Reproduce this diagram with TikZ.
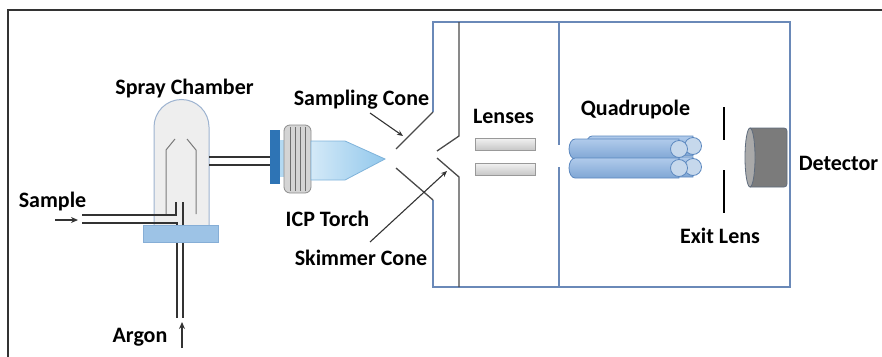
\documentclass[tikz,border=0pt]{standalone}
\usepackage{fontspec}
\setmainfont{Carlito}
\usetikzlibrary{arrows.meta}
\definecolor{frame}{HTML}{333333}
\definecolor{boxblue}{HTML}{6A89B8}
\definecolor{wallgray}{HTML}{4A4A4A}
\definecolor{glassfill}{HTML}{EEEEEE}
\definecolor{glassedge}{HTML}{9DB3D0}
\definecolor{innergray}{HTML}{7A7A7A}
\definecolor{plate}{HTML}{9DC3E6}
\definecolor{plateedge}{HTML}{86AED6}
\definecolor{flange}{HTML}{2E74B5}
\definecolor{ringgray}{HTML}{D4D4D4}
\definecolor{ringline}{HTML}{6E6E6E}
\definecolor{plasma}{HTML}{92C8EC}
\definecolor{plasmaedge}{HTML}{7FB3DA}
\definecolor{rodblue}{HTML}{86AFE0}
\definecolor{rodedge}{HTML}{5C88BF}
\definecolor{rodcap}{HTML}{C6D8EC}
\definecolor{detbody}{HTML}{7B7B7B}
\definecolor{detface}{HTML}{A9A9A9}
\definecolor{detedge}{HTML}{5E6B7C}
\tikzset{
  lbl/.style={font=\fontsize{22}{24}\selectfont\bfseries, inner sep=0pt, anchor=base},
  tube/.style={draw=frame, line width=1.3pt},
  ptr/.style={draw=frame, line width=1.1pt, -{Stealth[length=6pt,width=5pt]}},
  flow/.style={draw=frame, line width=1.3pt, -{Stealth[length=7pt,width=6pt]}},
  wall/.style={draw=wallgray, line width=1.3pt},
  boxline/.style={draw=boxblue, line width=1.5pt},
  lensbar/.style={draw=black!40, line width=0.8pt, top color=white!95!black, bottom color=black!22},
  rodbody/.style={draw=rodedge, line width=0.8pt, top color=rodblue!65!white, bottom color=rodblue!95!black},
  rodend/.style={draw=rodedge, line width=0.8pt, fill=rodcap},
}
% side view of a rod: body with rounded left end, end face on the right
\newcommand{\quadrod}[3]{%
  \path[rodbody] (#3,#2-10) -- (#1,#2-10)
    arc[start angle=90, end angle=270, x radius=6pt, y radius=10pt]
    -- (#3,#2+10) -- cycle;
  \path[rodend] (#3,#2) circle[radius=8.5pt];
}
\begin{document}
\begin{tikzpicture}[x=1pt,y=-1pt]
\useasboundingbox (0,0) rectangle (882,356);

% outer frame (open to the right and bottom)
\draw[frame, line width=2pt] (882,10) -- (8,10) -- (8,357);

% ---------- spray chamber ----------
\path[fill=glassfill, draw=glassedge, line width=1pt]
  (154,226) -- (154,127) arc[start angle=180, end angle=0, radius=27.5pt] -- (209,226);
\draw[innergray, line width=1pt] (166,215) -- (166,150) -- (175,139);
\draw[innergray, line width=1pt] (196,214) -- (196,150) -- (187,139);

% sample and argon feed tubes
\draw[tube] (82,215) -- (176,215) -- (176,202);
\draw[tube] (82,223) -- (177,223) -- (177,318);
\draw[tube] (183,202) -- (183,318);

% base plate
\path[fill=plate, draw=plateedge, line width=0.8pt] (143,225) rectangle (218,242);

% transfer line to the torch
\draw[tube] (209,157) -- (271,157);
\draw[tube] (209,165) -- (271,165);

% ---------- ICP torch ----------
\path[fill=plasma!70!white] (280,140) rectangle (287,177);
\path[fill=ringgray, draw=black!45, line width=0.8pt, rounded corners=6pt] (284,125) rectangle (311,193);
\foreach \rx in {290,295,300,305}
  \draw[ringline, line width=0.9pt] (\rx,127) -- (\rx,191);
\path[left color=plasma!40!white, right color=plasma, draw=plasmaedge, line width=0.8pt]
  (311,141) -- (345,141) -- (385,159) -- (345,180) -- (311,180) -- cycle;
\path[fill=flange] (270,130) rectangle (280,184);

% ---------- vacuum interface and housing ----------
\draw[boxline] (433,112) -- (433,22) -- (790,22) -- (790,287) -- (433,287) -- (433,200);
\draw[wall] (433,112) -- (396,149);
\draw[wall] (396,168) -- (433,200);
\draw[wall] (459,22) -- (459,136) -- (437,151);
\draw[wall] (437,158) -- (459,177) -- (459,287);
\draw[boxline] (559,22) -- (559,145);
\draw[boxline] (559,167) -- (559,287);

% ion lenses
\path[lensbar] (475,138) rectangle (535,150);
\path[lensbar] (475,163) rectangle (535,175);

% quadrupole rods: rear pair first, then front pair
\quadrod{592}{146}{693}
\quadrod{592}{167}{693}
\quadrod{575}{149}{679}
\quadrod{575}{168}{679}

% exit lens
\draw[black, line width=2pt] (724,107) -- (724,140);
\draw[black, line width=2pt] (724,170) -- (724,213);

% detector
\path[fill=detbody, draw=detedge, line width=0.8pt, rounded corners=3pt]
  (750,128) -- (787,128) -- (787,187) -- (750,187);
\path[fill=detface, draw=detedge, line width=0.8pt] (750,157.5) ellipse[x radius=5pt, y radius=29.5pt];

% ---------- labels ----------
\node[lbl] (spray)    at (184.5,94)  {Spray Chamber};
\node[lbl] (sample)   at (52.5,207)  {Sample};
\node[lbl] (argon)    at (140,342)   {Argon};
\node[lbl] (torch)    at (327.5,226) {ICP Torch};
\node[lbl] (sampling) at (361.5,105) {Sampling Cone};
\node[lbl] (skimmer)  at (361,265)   {Skimmer Cone};
\node[lbl] (lenses)   at (503.5,123) {Lenses};
\node[lbl] (quad)     at (635.5,115) {Quadrupole};
\node[lbl] (exitlens) at (720,243)   {Exit Lens};
\node[lbl] (detector) at (838.5,170) {Detector};

% flow and pointer arrows
\coordinate (sampleTail) at (55,220);
\coordinate (sampleHead) at (78,220);
\coordinate (argonTail)  at (182,348);
\coordinate (argonHead)  at (182,322);
\coordinate (samplingTail) at (370,113);
\coordinate (samplingHead) at (403,136);
\coordinate (skimmerTail)  at (370,242);
\coordinate (skimmerHead)  at (447,171);
\draw[flow] (sampleTail) -- (sampleHead);
\draw[flow] (argonTail) -- (argonHead);
\draw[ptr] (samplingTail) -- (samplingHead);
\draw[ptr] (skimmerTail) -- (skimmerHead);
\end{tikzpicture}
\end{document}
